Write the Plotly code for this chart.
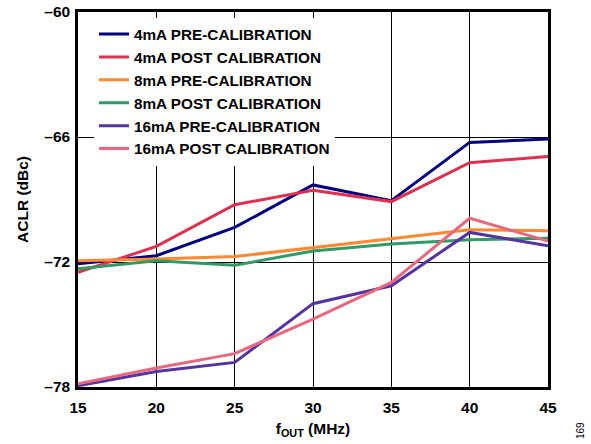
import plotly.graph_objects as go

freq_mhz = [15, 20, 25, 30, 35, 40, 45]

series_names = [
    "4mA PRE-CALIBRATION",
    "4mA POST CALIBRATION",
    "8mA PRE-CALIBRATION",
    "8mA POST CALIBRATION",
    "16mA PRE-CALIBRATION",
    "16mA POST CALIBRATION",
]

aclr_4ma_pre = [-72.08, -71.70, -70.34, -68.30, -69.06, -66.26, -66.10]
aclr_4ma_post = [-72.50, -71.25, -69.25, -68.56, -69.10, -67.23, -66.94]
aclr_8ma_pre = [-71.94, -71.86, -71.74, -71.31, -70.85, -70.45, -70.50]
aclr_8ma_post = [-72.32, -71.94, -72.16, -71.47, -71.14, -70.93, -70.86]
aclr_16ma_pre = [-77.94, -77.26, -76.82, -74.00, -73.14, -70.58, -71.22]
aclr_16ma_post = [-77.84, -77.09, -76.40, -74.74, -72.98, -69.90, -71.00]

y_tick_vals = [-60, -66, -72, -78]
y_tick_text = ["\u201360", "\u201366", "\u201372", "\u201378"]
x_tick_vals = [15, 20, 25, 30, 35, 40, 45]

colors = ["#000080", "#e0304f", "#ff8833", "#339966", "#5533a0", "#e86880"]
all_series = [aclr_4ma_pre, aclr_4ma_post, aclr_8ma_pre, aclr_8ma_post,
              aclr_16ma_pre, aclr_16ma_post]

FONT = "Liberation Sans, Arial, sans-serif"
BOLD = dict(family=FONT, size=15.5, color="black", weight="bold")

fig = go.Figure()
for name, vals, col in zip(series_names, all_series, colors):
    fig.add_trace(go.Scatter(
        x=freq_mhz, y=vals, mode="lines", name=name,
        line=dict(color=col, width=3),
    ))

fig.update_layout(
    width=591, height=444,
    margin=dict(l=78, r=43, t=12, b=57),
    paper_bgcolor="white", plot_bgcolor="white",
    font=dict(family=FONT, size=15, color="black"),
    showlegend=True,
    legend=dict(
        x=0.034, y=0.985, xanchor="left", yanchor="top",
        bgcolor="white", borderwidth=0,
        font=dict(family=FONT, size=15.3, color="black", weight="bold"),
        tracegroupgap=0, itemwidth=30,
    ),
    xaxis=dict(
        range=[15, 45], tickvals=x_tick_vals, automargin=False,
        showgrid=True, gridcolor="black", gridwidth=1.3,
        showline=True, linecolor="black", linewidth=2.5, mirror=True,
        ticks="", zeroline=False, ticklabelstandoff=5,
        tickfont=BOLD,
        title=dict(text="f<sub>OUT</sub> (MHz)", standoff=8, font=BOLD),
    ),
    yaxis=dict(
        range=[-78, -60], tickvals=y_tick_vals, ticktext=y_tick_text,
        automargin=False,
        showgrid=True, gridcolor="black", gridwidth=1.3,
        showline=True, linecolor="black", linewidth=2.5, mirror=True,
        ticks="", zeroline=False, ticklabelstandoff=2,
        tickfont=BOLD,
        title=dict(text="ACLR (dBc)", standoff=12, font=BOLD),
    ),
)

fig.add_annotation(
    text="169", xref="paper", yref="paper", x=1.068, y=-0.115,
    xanchor="center", yanchor="middle",
    showarrow=False, textangle=-90,
    font=dict(family=FONT, size=10, color="black"),
)

fig.write_html("out.html", config={"displayModeBar": False},
               post_script="document.body.style.margin='0';")
